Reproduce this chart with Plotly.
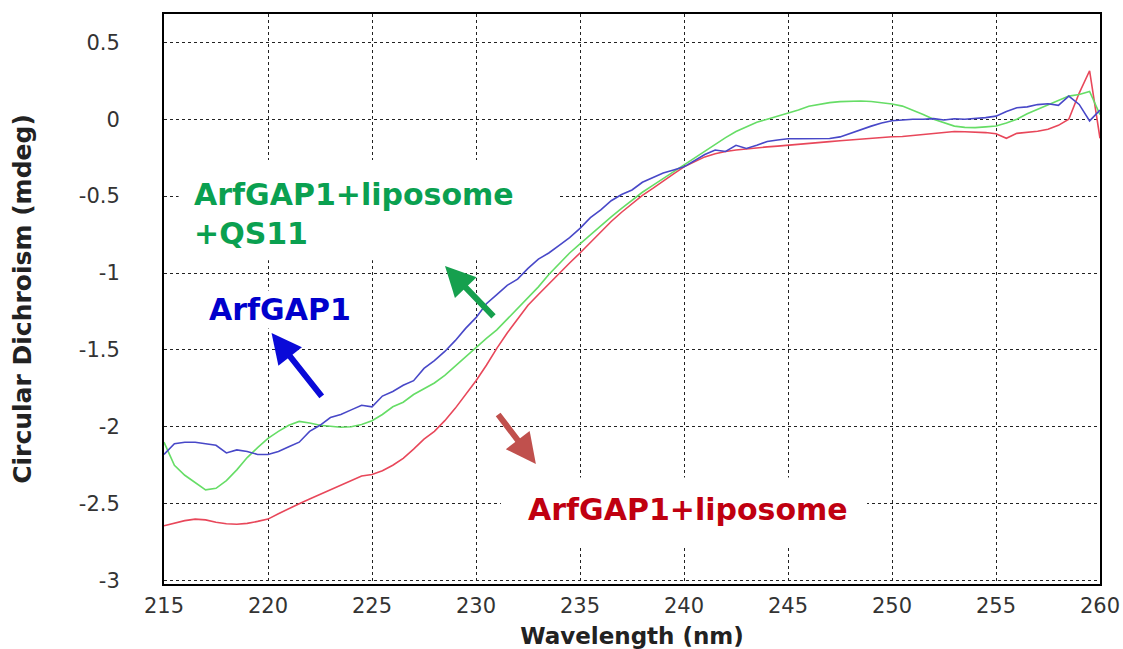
import plotly.graph_objects as go

# Wavelength sampling (nm), 0.5 nm steps
wavelength = [
    215.0, 215.5, 216.0, 216.5, 217.0, 217.5, 218.0, 218.5, 219.0, 219.5,
    220.0, 220.5, 221.0, 221.5, 222.0, 222.5, 223.0, 223.5, 224.0, 224.5,
    225.0, 225.5, 226.0, 226.5, 227.0, 227.5, 228.0, 228.5, 229.0, 229.5,
    230.0, 230.5, 231.0, 231.5, 232.0, 232.5, 233.0, 233.5, 234.0, 234.5,
    235.0, 235.5, 236.0, 236.5, 237.0, 237.5, 238.0, 238.5, 239.0, 239.5,
    240.0, 240.5, 241.0, 241.5, 242.0, 242.5, 243.0, 243.5, 244.0, 244.5,
    245.0, 245.5, 246.0, 246.5, 247.0, 247.5, 248.0, 248.5, 249.0, 249.5,
    250.0, 250.5, 251.0, 251.5, 252.0, 252.5, 253.0, 253.5, 254.0, 254.5,
    255.0, 255.5, 256.0, 256.5, 257.0, 257.5, 258.0, 258.5, 259.0, 259.5,
    260.0,
]

# Circular dichroism (mdeg)
cd_arfgap1 = [
    -2.18, -2.11, -2.10, -2.10, -2.11, -2.12, -2.17, -2.15, -2.16, -2.18,
    -2.18, -2.16, -2.13, -2.10, -2.03, -1.99, -1.94, -1.92, -1.89, -1.86,
    -1.87, -1.80, -1.77, -1.73, -1.70, -1.62, -1.57, -1.51, -1.44, -1.36,
    -1.29, -1.20, -1.14, -1.08, -1.04, -0.97, -0.91, -0.87, -0.82, -0.77,
    -0.71, -0.64, -0.59, -0.53, -0.49, -0.46, -0.41, -0.38, -0.35, -0.33,
    -0.31, -0.27, -0.23, -0.20, -0.21, -0.17, -0.19, -0.17, -0.145, -0.135,
    -0.127, -0.127, -0.127, -0.127, -0.125, -0.115, -0.09, -0.065, -0.045, -0.025,
    -0.01, -0.005, 0.0, 0.0, 0.004, -0.005, 0.003, 0.0, 0.005, 0.01,
    0.02, 0.05, 0.074, 0.08, 0.095, 0.10, 0.09, 0.15, 0.096, -0.011,
    0.06,
]

cd_liposome = [
    -2.643, -2.625, -2.61, -2.60, -2.605, -2.62, -2.63, -2.634, -2.628, -2.615,
    -2.60, -2.565, -2.53, -2.50, -2.47, -2.44, -2.41, -2.378, -2.345, -2.32,
    -2.31, -2.285, -2.25, -2.205, -2.145, -2.08, -2.03, -1.96, -1.88, -1.79,
    -1.70, -1.60, -1.49, -1.39, -1.30, -1.21, -1.14, -1.07, -1.00, -0.935,
    -0.87, -0.80, -0.735, -0.665, -0.605, -0.55, -0.495, -0.45, -0.40, -0.355,
    -0.31, -0.275, -0.245, -0.225, -0.21, -0.20, -0.192, -0.187, -0.18, -0.175,
    -0.17, -0.165, -0.158, -0.152, -0.146, -0.14, -0.134, -0.13, -0.124, -0.12,
    -0.114, -0.112, -0.105, -0.098, -0.09, -0.083, -0.08, -0.082, -0.085, -0.087,
    -0.095, -0.124, -0.092, -0.085, -0.078, -0.065, -0.04, 0.0, 0.17, 0.315,
    -0.124,
]

cd_liposome_qs11 = [
    -2.10, -2.25, -2.315, -2.36, -2.41, -2.40, -2.35, -2.28, -2.20, -2.135,
    -2.075, -2.03, -1.99, -1.965, -1.975, -1.99, -1.998, -2.003, -2.0, -1.985,
    -1.96, -1.92, -1.87, -1.84, -1.79, -1.755, -1.715, -1.665, -1.605, -1.545,
    -1.48, -1.425, -1.37, -1.30, -1.235, -1.165, -1.09, -1.01, -0.94, -0.87,
    -0.81, -0.75, -0.69, -0.635, -0.58, -0.525, -0.475, -0.43, -0.385, -0.345,
    -0.30, -0.255, -0.21, -0.165, -0.12, -0.08, -0.05, -0.02, 0.0, 0.02,
    0.038, 0.06, 0.084, 0.098, 0.108, 0.114, 0.117, 0.118, 0.115, 0.108,
    0.099, 0.085, 0.06, 0.03, 0.0, -0.025, -0.045, -0.053, -0.055, -0.05,
    -0.044, -0.025, 0.0, 0.035, 0.065, 0.095, 0.125, 0.15, 0.16, 0.18,
    0.03,
]

y_ticks = [-3, -2.5, -2, -1.5, -1, -0.5, 0, 0.5]
y_tick_labels = ["-3", "-2.5", "-2", "-1.5", "-1", "-0.5", "0", "0.5"]
x_ticks = [215, 220, 225, 230, 235, 240, 245, 250, 255, 260]

fig = go.Figure()
fig.add_trace(go.Scatter(x=wavelength, y=cd_liposome, mode="lines",
                         line=dict(color="#e8475a", width=1.6), name="ArfGAP1+liposome"))
fig.add_trace(go.Scatter(x=wavelength, y=cd_liposome_qs11, mode="lines",
                         line=dict(color="#66dd66", width=1.6), name="ArfGAP1+liposome+QS11"))
fig.add_trace(go.Scatter(x=wavelength, y=cd_arfgap1, mode="lines",
                         line=dict(color="#4848c8", width=1.6), name="ArfGAP1"))

# white panels behind the series labels (hide the grid, not the curves)
for x0, x1, y0, y1 in [(215.7, 233.95, -0.917, -0.266),
                       (231.2, 248.8, -2.77, -2.33)]:
    fig.add_shape(type="rect", xref="x", yref="y", x0=x0, x1=x1, y0=y0, y1=y1,
                  fillcolor="white", line=dict(width=0), layer="between")

label_font = "DejaVu Sans"
fig.add_annotation(x=216.35, y=-0.36, xref="x", yref="y", xanchor="left", yanchor="top",
                   text="<b>ArfGAP1+liposome<br>+QS11</b>", showarrow=False, align="left",
                   font=dict(family=label_font, size=30, color="#0aa050"))
fig.add_annotation(x=217.05, y=-1.24, xref="x", yref="y", xanchor="left", yanchor="middle",
                   text="<b>ArfGAP1</b>", showarrow=False, bgcolor="white",
                   font=dict(family=label_font, size=30, color="#0000cc"))
fig.add_annotation(x=232.4, y=-2.54, xref="x", yref="y", xanchor="left", yanchor="middle",
                   text="<b>ArfGAP1+liposome</b>", showarrow=False,
                   font=dict(family=label_font, size=30, color="#c00010"))

# pointer arrows
for hx, hy, tx, ty, col in [(220.17, -1.39, 222.64, -1.812, "#0a0ad8"),
                            (228.51, -0.954, 230.91, -1.292, "#16a04e"),
                            (232.88, -2.242, 231.01, -1.91, "#c0504d")]:
    fig.add_annotation(x=hx, y=hy, ax=tx, ay=ty, xref="x", yref="y", axref="x", ayref="y",
                       text="", showarrow=True, arrowhead=2, arrowsize=1, arrowwidth=6,
                       arrowcolor=col, standoff=0)

grid = dict(showgrid=True, gridcolor="#222222", gridwidth=1.4, griddash="3px,3px",
            showline=True, linecolor="black", linewidth=2, mirror=True,
            zeroline=False, ticks="", automargin=False)

fig.update_xaxes(range=[215, 260], tickvals=x_ticks, ticklabelstandoff=2,
                 tickfont=dict(family="DejaVu Sans", size=21, color="#333333"),
                 title=dict(text="Wavelength (nm)", standoff=14,
                            font=dict(family="DejaVu Sans", size=23, color="#222222", weight="bold")),
                 **grid)
fig.update_yaxes(range=[-3.022, 0.684], tickvals=y_ticks, ticktext=y_tick_labels,
                 ticklabelstandoff=38,
                 tickfont=dict(family="DejaVu Sans", size=21, color="#333333"),
                 title=dict(text="Circular Dichroism (mdeg)", standoff=40,
                            font=dict(family="DejaVu Sans", size=25, color="#222222", weight="bold")),
                 **grid)

fig.update_layout(width=1123, height=649, margin=dict(l=164, r=23, t=14, b=65),
                  plot_bgcolor="white", paper_bgcolor="white", showlegend=False)

fig.write_html("out.html")
